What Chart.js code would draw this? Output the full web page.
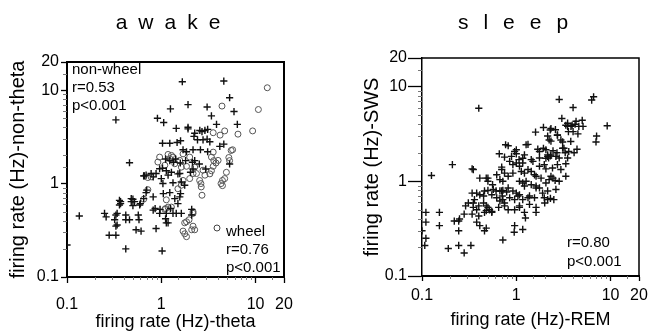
<!DOCTYPE html>
<html>
<head>
<meta charset="utf-8">
<script src="https://cdn.jsdelivr.net/npm/chart.js@4.4.1/dist/chart.umd.min.js"></script>
<style>
  body { margin: 0; background: #fff; }
  .panel { position: absolute; top: 0; width: 325px; height: 335px; }
</style>
</head>
<body>
<div class="panel" style="left:0"><canvas id="awake" width="325" height="335"></canvas></div>
<div class="panel" style="left:325px"><canvas id="sleep" width="325" height="335"></canvas></div>
<script>
// axis ticks (both panels use the same log range)
const tickValues = [0.1, 1, 10, 20];

// awake, non-wheel cells: [theta rate, non-theta rate]
const awakeNonWheel = [
  [1.67,12.3],[4.6,12.5],[5.3,8.3],[1.92,7.0],[1.25,6.3],[3.06,6.6],[5.9,5.9],[0.33,4.8],[0.91,5.0],[1.06,4.5],
  [3.4,5.3],[3.85,4.3],[6.4,4.3],[1.44,3.9],[1.92,3.85],[1.92,4.0],[2.56,3.7],[3.1,3.8],[2.26,3.46],[2.7,3.6],
  [2.9,3.7],[1.03,2.7],[1.23,2.7],[1.47,2.75],[1.6,2.87],[2.22,3.2],[2.42,2.94],[2.77,2.94],[3.06,2.99],[3.27,2.8],
  [4.17,2.5],[4.6,2.64],[1.7,2.3],[1.85,2.19],[2.17,2.3],[2.6,2.3],[3.1,2.19],[1.11,1.83],[1.23,1.76],[1.35,1.69],
  [1.42,1.83],[1.59,1.66],[1.81,1.76],[2.14,1.69],[2.26,1.76],[2.53,1.62],[2.96,1.43],[1.03,1.46],[1.13,1.37],[1.28,1.32],
  [1.5,1.27],[2.04,1.32],[2.17,1.43],[5.3,1.62],[0.65,1.21],[0.69,1.23],[0.66,1.21],[0.78,1.28],[0.88,1.28],[0.96,1.44],
  [1.18,1.23],[1.57,1.28],[1.63,1.04],[0.46,1.67],[0.82,1.18],[1.04,1.0],[1.0,1.13],[1.33,1.02],[1.77,0.96],[0.69,0.8],
  [0.7,0.85],[1.23,0.8],[1.05,0.78],[1.39,0.69],[1.57,0.72],[1.6,0.78],[1.5,0.61],[0.82,0.72],[0.5,0.68],[0.48,0.69],
  [0.52,0.64],[0.48,0.64],[0.37,0.64],[0.36,0.59],[0.36,0.66],[0.37,0.61],[0.59,0.59],[0.65,0.69],[0.6,0.61],[0.5,0.58],
  [0.82,0.52],[0.86,0.54],[0.97,0.53],[0.96,0.48],[1.13,0.48],[1.11,0.42],[1.18,0.38],[1.25,0.54],[1.33,0.48],[1.44,0.48],
  [1.63,0.48],[2.1,0.53],[2.1,0.46],[0.33,0.46],[0.32,0.41],[0.26,0.44],[0.25,0.48],[0.135,0.45],[0.34,0.48],[0.42,0.41],
  [0.42,0.46],[0.46,0.41],[0.57,0.46],[0.58,0.41],[0.33,0.35],[0.34,0.36],[0.28,0.28],[0.33,0.28],[0.54,0.32],[0.61,0.31],
  [0.88,0.33],[1.13,0.38],[0.42,0.2],[1.02,0.19],[0.10,0.22]
];

// awake, wheel cells
const awakeWheel = [
  [13.3,10.6],[4.4,6.75],[10.7,6.2],[9.3,3.66],[6.5,3.38],[4.7,3.66],[4.2,3.3],[3.55,3.5],[5.7,2.3],[5.2,1.9],
  [5.3,1.76],[4.9,1.32],[3.6,1.76],[3.55,1.53],[3.4,1.37],[3.27,1.27],[4.45,1.08],[4.45,0.95],[2.7,0.75],[2.55,1.08],
  [2.63,1.0],[2.36,1.28],[2.26,1.5],[1.85,1.53],[1.33,1.92],[1.18,2.05],[1.63,1.5],[0.78,1.18],[0.72,1.16],[0.65,0.68],
  [0.72,0.86],[1.13,0.67],[1.09,0.53],[1.28,0.56],[1.77,0.38],[1.97,0.41],[2.17,0.48],[2.1,0.32],[2.26,0.32],[1.77,0.29],
  [1.85,0.27],[5.5,2.26],[3.55,2.17],[3.4,1.92],[4.0,1.77],[3.8,1.66],[4.7,1.13],[4.3,1.0],[2.65,0.92],[2.0,1.13],
  [1.7,1.08],[1.63,0.96],[1.5,0.88],[1.28,2.0],[1.23,1.85],[1.39,1.63],[1.11,0.54],[1.18,0.56],[2.17,0.5],[1.85,0.39],
  [2.17,0.35],[1.7,0.31],[2.77,1.39],[2.17,1.28],[2.9,1.23],[1.7,2.08],[2.0,1.92],[1.57,1.77],[0.96,1.92],[0.92,1.7],
  [1.09,1.57]
];

// sleep: [REM rate, SWS rate]
const sleepCells = [
  [0.40,5.9],[2.85,7.3],[6.6,7.8],[6.3,7.2],[4.0,6.0],[3.04,4.6],[9.2,3.85],[7.1,3.0],[7.0,2.6],[0.21,1.5],
  [0.126,1.15],[0.34,1.35],[0.11,0.47],[0.11,0.37],[0.10,0.30],[0.107,0.21],[0.11,0.25],[0.153,0.47],[0.153,0.34],[0.19,0.195],
  [0.245,0.21],[0.28,0.175],[0.33,0.21],[0.72,0.24],[0.22,0.38],[0.245,0.38],[0.25,0.4],[0.28,0.45],[0.34,0.45],[0.4,0.43],
  [0.38,0.37],[0.41,0.34],[0.48,0.32],[0.46,0.30],[0.245,0.3],[0.29,0.55],[0.31,0.59],[0.35,0.59],[0.34,0.75],[0.36,0.64],
  [0.4,0.55],[0.46,0.47],[0.48,0.49],[0.5,0.53],[0.55,0.47],[0.41,1.08],[0.5,1.08],[0.5,1.0],[0.56,0.92],[0.7,0.79],
  [0.71,0.7],[0.75,0.59],[0.82,0.5],[0.96,0.34],[1.17,0.31],[0.95,0.29],[1.22,0.47],[1.25,0.41],[1.62,0.47],[1.08,0.55],
  [0.85,0.67],[1.0,0.75],[1.08,0.72],[1.38,0.7],[1.56,0.67],[1.98,0.67],[2.0,0.59],[2.5,0.64],[2.15,0.79],[1.62,0.85],
  [2.33,1.13],[2.45,1.08],[2.85,1.0],[4.3,4.3],[4.2,4.0],[5.0,4.4],[5.1,3.8],[3.9,3.9],[3.8,3.8],[4.6,3.8],
  [3.5,3.8],[3.57,3.34],[4.0,3.34],[4.5,3.16],[2.33,3.6],[2.6,3.5],[1.94,3.7],[1.6,3.3],[2.15,3.0],[2.23,2.73],
  [2.33,2.65],[2.73,3.06],[3.78,2.63],[3.1,2.23],[3.6,2.06],[3.5,1.76],[4.4,2.18],[4.1,2.0],[3.35,1.53],[1.27,2.43],
  [1.33,2.45],[0.77,2.43],[0.82,2.37],[0.66,1.95],[0.75,1.8],[1.0,2.15],[0.89,1.83],[1.07,1.69],[1.17,1.56],[1.69,2.18],
  [1.76,2.06],[1.94,2.23],[2.06,2.15],[2.15,1.83],[2.2,1.76],[2.33,1.9],[2.63,1.83],[2.85,1.76],[1.76,1.76],[1.44,1.69],
  [0.7,1.41],[0.92,1.5],[1.08,1.44],[2.29,3.48],[2.73,3.08],[3.2,2.23],[3.3,2.0],[0.96,2.06],[1.0,1.95],[1.22,1.9],
  [1.17,1.75],[2.15,1.9],[2.3,1.85],[2.06,1.75],[2.45,2.1],[2.7,2.0],[0.85,1.62],[1.0,1.56],[1.5,1.62],[1.76,1.44],
  [1.98,1.5],[2.06,1.35],[2.42,1.38],[2.73,1.5],[2.97,1.33],[3.35,1.13],[0.35,1.33],[0.48,1.08],[0.7,1.33],[0.75,1.22],
  [0.62,1.17],[0.67,1.04],[0.72,1.0],[0.82,1.13],[0.92,1.22],[1.13,1.27],[1.22,1.22],[1.33,1.33],[1.44,1.27],[1.56,1.17],
  [1.62,1.13],[1.83,1.08],[1.08,1.0],[1.17,0.96],[1.22,0.89],[1.27,1.0],[1.44,0.92],[1.62,0.89],[1.76,0.85],[2.06,0.96],
  [2.23,1.04],[2.58,1.02],[0.38,0.75],[0.41,0.72],[0.45,0.7],[0.46,0.79],[0.5,0.8],[0.55,0.72],[0.57,0.82],[0.61,0.79],
  [0.67,0.79],[0.72,0.8],[0.79,0.77],[0.82,0.85],[0.92,0.79],[0.62,0.67],[0.67,0.62],[0.72,0.64],[0.96,0.64],[1.04,0.7],
  [1.17,0.64],[1.33,0.67],[1.38,0.57],[1.62,0.53],[1.9,0.75],[2.15,0.64],[2.3,0.66],[2.63,0.82],[0.45,0.59],[0.48,0.55],
  [0.52,0.5],[0.55,0.48],[0.35,0.53],[0.38,0.5],[1.08,0.53],[0.96,0.5],[0.75,0.55],[0.65,0.53],[3.35,3.9],[3.5,4.1],
  [2.97,2.73],[3.1,2.6]
];

const FONT = '"Liberation Sans", Arial, Helvetica, sans-serif';
Chart.defaults.font.family = FONT;
Chart.defaults.color = '#000';

const isMajor = v => tickValues.some(t => Math.abs(v - t) < t * 1e-6);
const toPoints = arr => arr.map(([x, y]) => ({x, y}));

function logAxis(c) {
  return {
    type: 'logarithmic', min: 0.1, max: 20, position: c.position,
    afterFit: s => {
      if (s.isHorizontal()) s.height = c.size; else s.width = c.size;
      s.paddingLeft = s.paddingRight = s.paddingTop = s.paddingBottom = 0;
    },
    border: {display: true, color: '#000', width: c.border},
    grid: {
      drawOnChartArea: false, tickLength: c.tickLength, tickWidth: 1.3,
      tickColor: ctx => isMajor(ctx.tick.value) ? '#000' : 'rgba(0,0,0,0)'
    },
    ticks: {
      autoSkip: false, maxRotation: 0, padding: c.pad, color: '#000', font: {size: 16},
      callback: v => isMajor(v) ? String(v) : ''
    },
    title: {display: true, text: c.title, color: '#000', font: {size: c.titleSize}, padding: c.titlePad}
  };
}

// frame top/right, short minor ticks, titles and notes
const panelText = {
  id: 'panelText',
  afterDraw(chart, args, o) {
    const {ctx, chartArea: a} = chart;
    ctx.save();
    ctx.strokeStyle = '#000';
    ctx.lineWidth = o.frame;
    ctx.beginPath();
    ctx.moveTo(a.left, a.top); ctx.lineTo(a.right, a.top); ctx.lineTo(a.right, a.bottom);
    ctx.stroke();

    ctx.strokeStyle = '#777';
    ctx.lineWidth = 1;
    const xs = chart.scales.x, ys = chart.scales.y;
    ctx.beginPath();
    xs.ticks.forEach(t => {
      if (isMajor(t.value)) return;
      const p = Math.round(xs.getPixelForValue(t.value)) + 0.5;
      ctx.moveTo(p, a.bottom); ctx.lineTo(p, a.bottom + 3);
    });
    ys.ticks.forEach(t => {
      if (isMajor(t.value)) return;
      const p = Math.round(ys.getPixelForValue(t.value)) + 0.5;
      ctx.moveTo(a.left - 4, p); ctx.lineTo(a.left, p);
    });
    ctx.stroke();

    ctx.fillStyle = '#000';
    ctx.font = '21px ' + FONT;
    ctx.textAlign = 'center';
    ctx.textBaseline = 'alphabetic';
    if ('letterSpacing' in ctx) ctx.letterSpacing = o.spacing + 'px';
    ctx.fillText(o.title, o.titleX + o.spacing / 2, 29);
    if ('letterSpacing' in ctx) ctx.letterSpacing = '0px';

    ctx.font = '15px ' + FONT;
    ctx.textAlign = 'left';
    o.notes.forEach(n => ctx.fillText(n.text, n.x, n.y));
    if (o.marker) {
      ctx.strokeStyle = '#444';
      ctx.beginPath();
      ctx.arc(o.marker.x, o.marker.y, 3, 0, Math.PI * 2);
      ctx.stroke();
    }
    ctx.restore();
  }
};

const crossStyle = {
  pointStyle: 'cross', pointRadius: 3.6, borderColor: '#111', borderWidth: 1.4, backgroundColor: '#111'
};
const circleStyle = {
  pointStyle: 'circle', pointRadius: 3, borderColor: '#555', borderWidth: 1, backgroundColor: 'rgba(255,255,255,0)'
};

new Chart(document.getElementById('awake'), {
  type: 'scatter',
  data: {
    datasets: [
      Object.assign({label: 'non-wheel', data: toPoints(awakeNonWheel)}, crossStyle),
      Object.assign({label: 'wheel', data: toPoints(awakeWheel)}, circleStyle)
    ]
  },
  options: {
    responsive: false, animation: false,
    layout: {padding: {top: 62, right: 41, left: 0, bottom: 0}},
    plugins: {
      legend: {display: false}, tooltip: {enabled: false},
      panelText: {
        frame: 2, title: 'awake', titleX: 168, spacing: 11,
        notes: [
          {text: 'non-wheel', x: 72, y: 74}, {text: 'r=0.53', x: 72, y: 92}, {text: 'p<0.001', x: 72, y: 110},
          {text: 'wheel', x: 226, y: 236}, {text: 'r=0.76', x: 226, y: 254}, {text: 'p<0.001', x: 226, y: 272}
        ],
        marker: {x: 217, y: 228}
      }
    },
    scales: {
      x: logAxis({position: 'bottom', size: 58, border: 2, tickLength: 6, pad: 12,
        title: 'firing rate (Hz)-theta', titleSize: 18, titlePad: {top: 2, bottom: 2}}),
      y: logAxis({position: 'left', size: 67, border: 2, tickLength: 6, pad: 2,
        title: 'firing rate (Hz)-non-theta', titleSize: 20, titlePad: {top: 6, bottom: 6}})
    }
  },
  plugins: [panelText]
});

new Chart(document.getElementById('sleep'), {
  type: 'scatter',
  data: {
    datasets: [Object.assign({label: 'sleep', data: toPoints(sleepCells)}, crossStyle)]
  },
  options: {
    responsive: false, animation: false,
    layout: {padding: {top: 58, right: 11, left: 0, bottom: 0}},
    plugins: {
      legend: {display: false}, tooltip: {enabled: false},
      panelText: {
        frame: 1.5, title: 'sleep', titleX: 188, spacing: 15,
        notes: [{text: 'r=0.80', x: 242, y: 247}, {text: 'p<0.001', x: 242, y: 266}]
      }
    },
    scales: {
      x: logAxis({position: 'bottom', size: 59, border: 2, tickLength: 5, pad: 5,
        title: 'firing rate (Hz)-REM', titleSize: 18, titlePad: {top: 4, bottom: 4}}),
      y: logAxis({position: 'left', size: 97, border: 1.5, tickLength: 14, pad: 1,
        title: 'firing rate (Hz)-SWS', titleSize: 20, titlePad: {top: 35, bottom: 35}})
    }
  },
  plugins: [panelText]
});
</script>
</body>
</html>
